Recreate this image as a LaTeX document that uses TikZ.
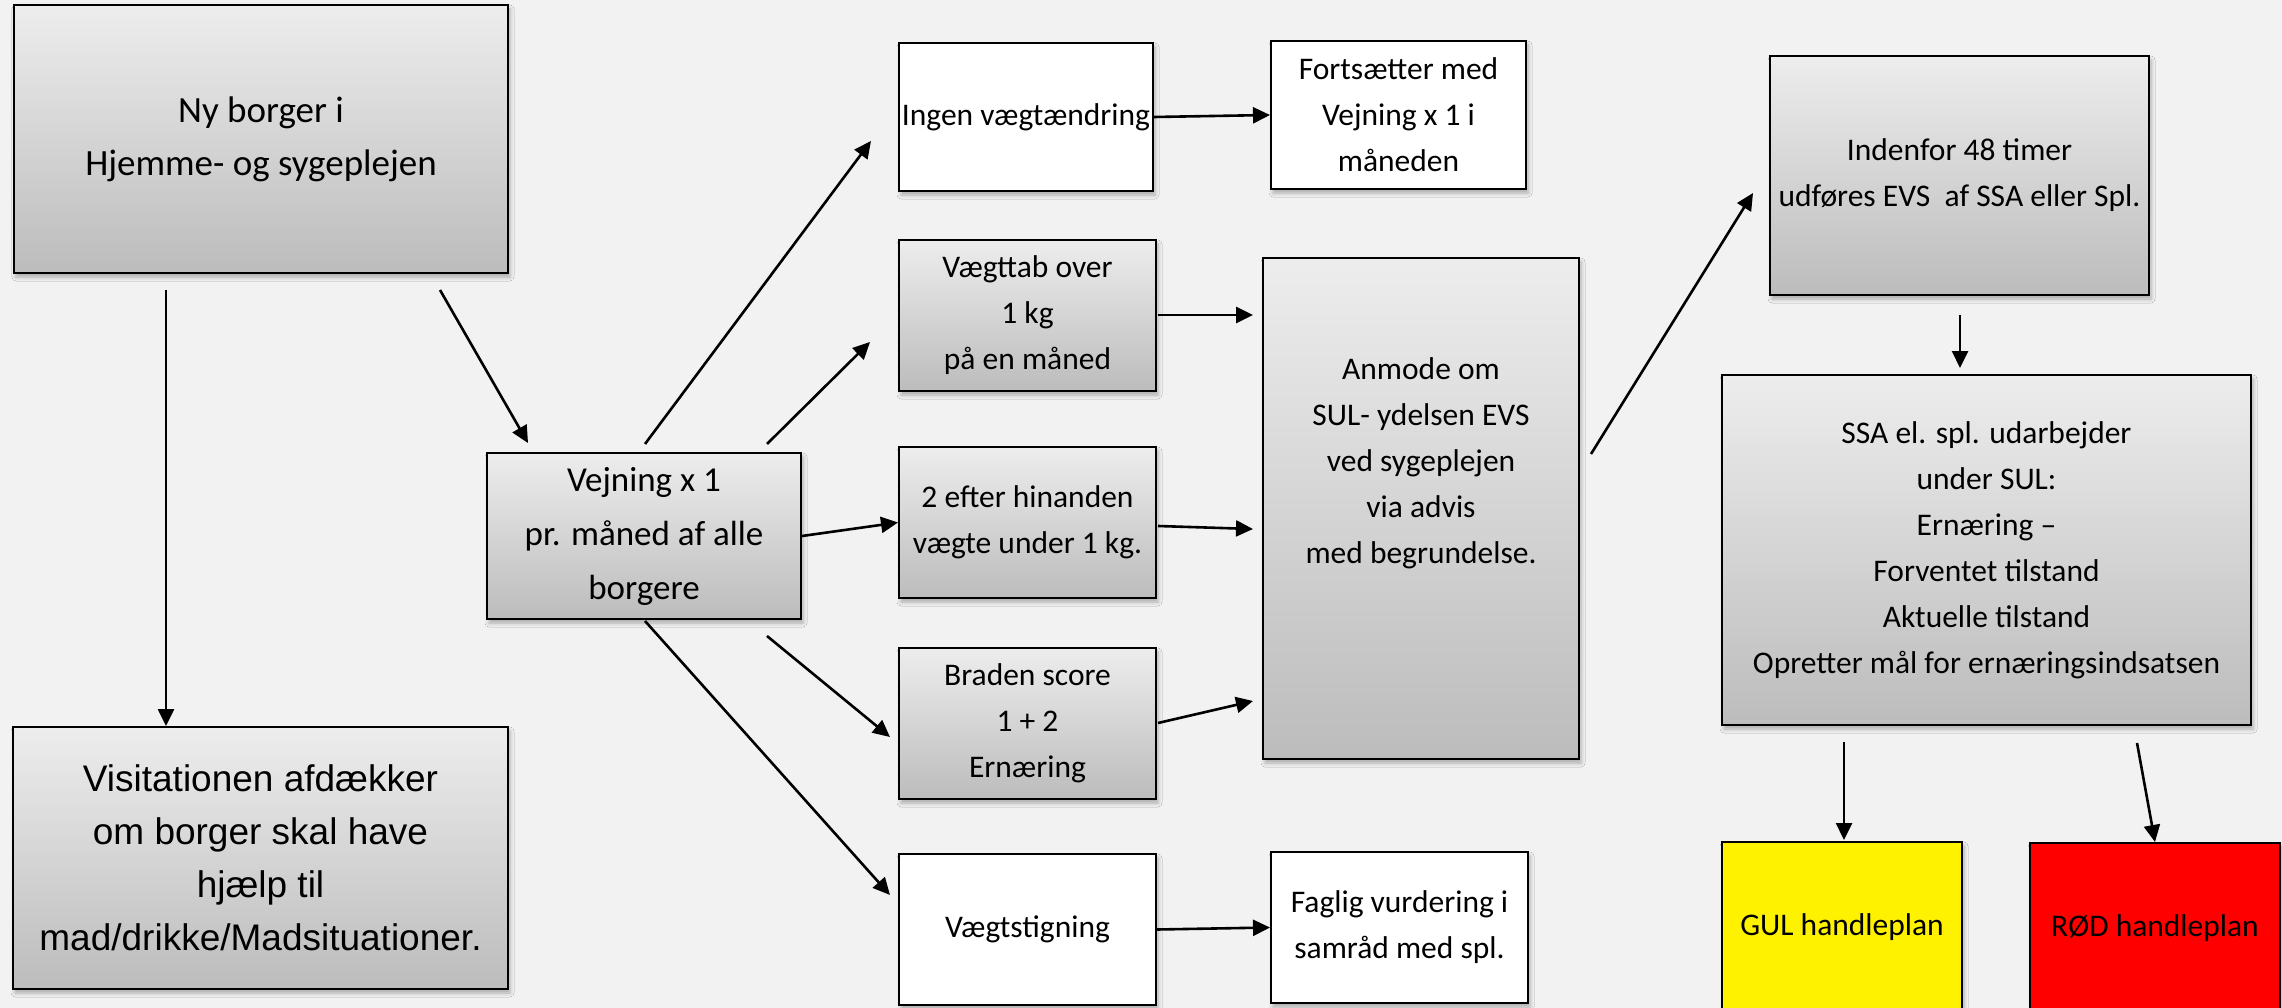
\documentclass[tikz,border=0pt]{standalone}
\usepackage{fontspec}
\setmainfont{Carlito}
\newfontfamily\arialf{Liberation Sans}
\usetikzlibrary{arrows.meta,shadows.blur}
\definecolor{bg}{HTML}{F2F2F2}
\definecolor{gtop}{HTML}{EDEDED}
\definecolor{gbot}{HTML}{BCBCBC}
\tikzset{
  box/.style={draw=black, line width=2pt, inner sep=0pt, align=center,
    blur shadow={shadow xshift=2pt, shadow yshift=-4pt, shadow opacity=30, shadow blur steps=4, shadow blur radius=4pt}},
  gbox/.style={box, top color=gtop, bottom color=gbot},
  wbox/.style={box, fill=white},
  arr/.style={line width=2.6pt, -{Triangle[length=17pt,width=16pt]}},
  big/.style={font=\fontsize{37}{53}\selectfont},
  mid/.style={font=\fontsize{35}{54}\selectfont},
  sml/.style={font=\fontsize{31.5}{46}\selectfont},
  ari/.style={font=\arialf\fontsize{37}{53}\selectfont},
}
\begin{document}
\begin{tikzpicture}[x=1pt,y=-1pt]
\clip (0,0) rectangle (2282,1008);
\fill[bg] (0,0) rectangle (2282,1008);
\useasboundingbox (0,0) rectangle (2282,1008);

% boxes
\node[gbox,big,minimum width=494pt,minimum height=268pt] (ny) at (261,139) {Ny borger i\\Hjemme- og sygeplejen};
\node[gbox,ari,minimum width=495pt,minimum height=262pt] (vis) at (260.5,858) {Visitationen afdækker\\om borger skal have\\hjælp til\\mad/drikke/Madsituationer.};
\node[gbox,mid,minimum width=314pt,minimum height=166pt] (vej) at (644,536) {Vejning x 1\\pr. måned af alle\\borgere};
\node[wbox,sml,minimum width=254pt,minimum height=148pt] (ingen) at (1026,117) {Ingen vægtændring};
\node[wbox,sml,minimum width=255pt,minimum height=148pt] (fort) at (1398.5,115) {Fortsætter med\\Vejning x 1 i\\måneden};
\node[gbox,sml,minimum width=257pt,minimum height=151pt] (tab) at (1027.5,315.5) {Vægttab over\\1 kg\\på en måned};
\node[gbox,minimum width=316pt,minimum height=501pt] (anm) at (1421,508.5) {};
\node[sml,align=center,inner sep=0pt] (anmT) at (1421,463) {Anmode om\\SUL- ydelsen EVS\\ved sygeplejen\\via advis\\med begrundelse.};
\node[gbox,sml,minimum width=257pt,minimum height=151pt] (efter) at (1027.5,522.5) {2 efter hinanden\\vægte under 1 kg.};
\node[gbox,sml,minimum width=257pt,minimum height=151pt] (brad) at (1027.5,723.5) {Braden score\\1 + 2\\Ernæring};
\node[wbox,sml,minimum width=257pt,minimum height=151pt] (stig) at (1027.5,929.5) {Vægtstigning};
\node[wbox,sml,minimum width=257pt,minimum height=151pt] (fag) at (1399.5,927.5) {Faglig vurdering i\\samråd med spl.};
\node[gbox,sml,minimum width=379pt,minimum height=239pt] (ind) at (1959.5,175.5) {Indenfor 48 timer\\udføres EVS\ \ af SSA eller Spl.};
\node[gbox,sml,minimum width=529pt,minimum height=350pt] (ssa) at (1986.5,550) {SSA el. spl. udarbejder\\under SUL:\\Ernæring –\\Forventet tilstand\\Aktuelle tilstand\\Opretter mål for ernæringsindsatsen};
\node[box,fill=yellow,sml,minimum width=240pt,minimum height=170pt] (gul) at (1842,927) {GUL handleplan};
\node[box,fill=red,sml,minimum width=250pt,minimum height=170pt] (rod) at (2155,928) {RØD handleplan};

% free connector ends
\coordinate (a1s) at (166,290);   \coordinate (a1e) at (166,726);
\coordinate (a2s) at (440,290);   \coordinate (a2e) at (528,443);
\coordinate (a3s) at (645,444);   \coordinate (a3e) at (871,141);
\coordinate (a4s) at (767,444);   \coordinate (a4e) at (870,342);
\coordinate (a6s) at (767,636);   \coordinate (a6e) at (890,737);
\coordinate (a7s) at (645,621);   \coordinate (a7e) at (890,895);
\coordinate (a9s) at (1158,315);  \coordinate (a9e) at (1253,315);
\coordinate (a10s) at (1158,526); \coordinate (a10e) at (1253,529);
\coordinate (a11s) at (1158,723); \coordinate (a11e) at (1253,701);
\coordinate (a13s) at (1591,454); \coordinate (a13e) at (1753,193);
\coordinate (a14s) at (1960,315); \coordinate (a14e) at (1960,368);
\coordinate (a15s) at (1844,742); \coordinate (a15e) at (1844,840);
\coordinate (a16s) at (2137,743); \coordinate (a16e) at (2155,842);

\draw[arr] (a1s) -- (a1e);
\draw[arr] (a2s) -- (a2e);
\draw[arr] (a3s) -- (a3e);
\draw[arr] (a4s) -- (a4e);
\draw[arr] (vej.east) -- (efter.west);
\draw[arr] (a6s) -- (a6e);
\draw[arr] (a7s) -- (a7e);
\draw[arr] (ingen.east) -- (fort.west);
\draw[arr] (a9s) -- (a9e);
\draw[arr] (a10s) -- (a10e);
\draw[arr] (a11s) -- (a11e);
\draw[arr] (stig.east) -- (fag.west);
\draw[arr] (a13s) -- (a13e);
\draw[arr] (a14s) -- (a14e);
\draw[arr] (a15s) -- (a15e);
\draw[arr] (a16s) -- (a16e);
\end{tikzpicture}
\end{document}
